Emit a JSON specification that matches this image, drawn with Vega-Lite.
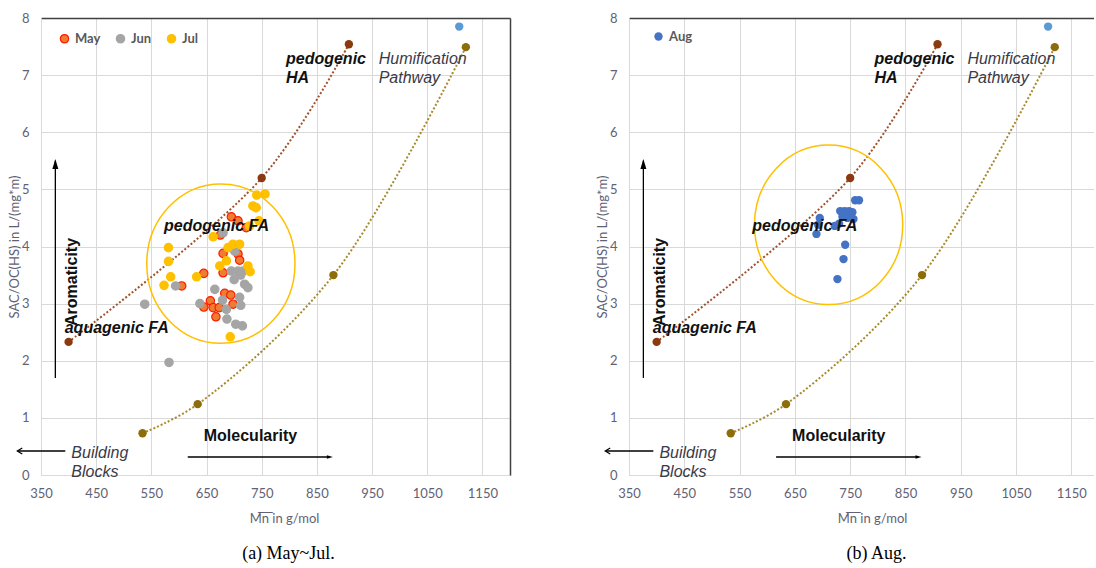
{
  "$schema": "https://vega.github.io/schema/vega-lite/v6.json",
  "background": "white",
  "padding": {"left": 8, "top": 12, "right": 0, "bottom": 0},
  "spacing": 86,
  "config": {
    "view": {"stroke": null},
    "font": "Liberation Sans",
    "axis": {
      "labelFont": "Lato", "labelFontSize": 13, "labelColor": "#5f6275",
      "titleFont": "Lato", "titleFontSize": 13, "titleFontWeight": "normal", "titleColor": "#5f6275",
      "gridColor": "#D9D9D9", "domainColor": "#D9D9D9", "ticks": false, "labelFlush": false
    },
    "legend": {
      "orient": "none", "direction": "horizontal", "title": null,
      "labelFont": "Lato", "labelFontSize": 13, "labelFontWeight": "bold", "labelColor": "#595959",
      "symbolSize": 70, "symbolStrokeWidth": 1.2, "columnPadding": 12, "labelOffset": 4
    }
  },
  "datasets": {
    "pedo": [{"x": 400, "y": 2.33}, {"x": 750, "y": 5.2}, {"x": 908, "y": 7.54}],
    "humi": [{"x": 534, "y": 0.73}, {"x": 634, "y": 1.24}, {"x": 880, "y": 3.5}, {"x": 1120, "y": 7.49}],
    "arrows": [
      {"x": 376, "y": 1.70, "x2": 376, "y2": 5.50},
      {"x": 616, "y": 0.315, "x2": 870, "y2": 0.315},
      {"x": 394, "y": 0.42, "x2": 308, "y2": 0.42}
    ],
    "upTip": [{"x": 376, "y": 5.53}],
    "rightTip": [{"x": 879, "y": 0.315}],
    "leftTip": [{"x": 307, "y": 0.42}],
    "biLabels": [
      {"x": 794, "y": 7.19, "label": "pedogenic\nHA"},
      {"x": 573, "y": 4.27, "label": "pedogenic FA"},
      {"x": 393, "y": 2.49, "label": "aquagenic FA"}
    ],
    "itLabels": [
      {"x": 962, "y": 7.20, "label": "Humification\nPathway"},
      {"x": 405, "y": 0.30, "label": "Building\nBlocks"}
    ],
    "boldLabels": [{"x": 645, "y": 0.60, "label": "Molecularity"}],
    "rotLabels": [{"x": 406, "y": 3.38, "label": "Aromaticity"}],
    "ref": [{"x": 1108, "y": 7.85}],
    "months": [
      {"month": "May", "x": 695, "y": 4.52}, {"month": "May", "x": 707, "y": 4.45}, {"month": "May", "x": 722, "y": 4.33},
      {"month": "May", "x": 675, "y": 4.20}, {"month": "May", "x": 680, "y": 3.88}, {"month": "May", "x": 707, "y": 3.87},
      {"month": "May", "x": 710, "y": 3.76}, {"month": "May", "x": 680, "y": 3.54}, {"month": "May", "x": 645, "y": 3.53},
      {"month": "May", "x": 605, "y": 3.31}, {"month": "May", "x": 683, "y": 3.18}, {"month": "May", "x": 694, "y": 3.15},
      {"month": "May", "x": 657, "y": 3.05}, {"month": "May", "x": 698, "y": 2.99}, {"month": "May", "x": 645, "y": 2.94},
      {"month": "May", "x": 662, "y": 2.93}, {"month": "May", "x": 673, "y": 2.93}, {"month": "May", "x": 667, "y": 2.77},
      {"month": "Jun", "x": 680, "y": 4.24}, {"month": "Jun", "x": 701, "y": 3.92}, {"month": "Jun", "x": 695, "y": 3.57},
      {"month": "Jun", "x": 707, "y": 3.57}, {"month": "Jun", "x": 716, "y": 3.57}, {"month": "Jun", "x": 712, "y": 3.50},
      {"month": "Jun", "x": 700, "y": 3.42}, {"month": "Jun", "x": 719, "y": 3.34}, {"month": "Jun", "x": 725, "y": 3.28},
      {"month": "Jun", "x": 665, "y": 3.25}, {"month": "Jun", "x": 679, "y": 3.06}, {"month": "Jun", "x": 710, "y": 3.11},
      {"month": "Jun", "x": 712, "y": 2.97}, {"month": "Jun", "x": 638, "y": 3.00}, {"month": "Jun", "x": 686, "y": 2.90},
      {"month": "Jun", "x": 687, "y": 2.73}, {"month": "Jun", "x": 703, "y": 2.64}, {"month": "Jun", "x": 715, "y": 2.61},
      {"month": "Jun", "x": 594, "y": 3.31}, {"month": "Jun", "x": 538, "y": 2.99}, {"month": "Jun", "x": 582, "y": 1.97},
      {"month": "Jul", "x": 741, "y": 4.90}, {"month": "Jul", "x": 756, "y": 4.92}, {"month": "Jul", "x": 734, "y": 4.71},
      {"month": "Jul", "x": 740, "y": 4.68}, {"month": "Jul", "x": 745, "y": 4.45}, {"month": "Jul", "x": 728, "y": 4.36},
      {"month": "Jul", "x": 662, "y": 4.17}, {"month": "Jul", "x": 581, "y": 3.98}, {"month": "Jul", "x": 689, "y": 3.98},
      {"month": "Jul", "x": 698, "y": 4.04}, {"month": "Jul", "x": 710, "y": 4.04}, {"month": "Jul", "x": 581, "y": 3.74},
      {"month": "Jul", "x": 674, "y": 3.66}, {"month": "Jul", "x": 686, "y": 3.75}, {"month": "Jul", "x": 725, "y": 3.66},
      {"month": "Jul", "x": 729, "y": 3.56}, {"month": "Jul", "x": 632, "y": 3.47}, {"month": "Jul", "x": 585, "y": 3.47},
      {"month": "Jul", "x": 573, "y": 3.32}, {"month": "Jul", "x": 693, "y": 2.42}
    ],
    "aug": [
      {"month": "Aug", "x": 759, "y": 4.81}, {"month": "Aug", "x": 766, "y": 4.81}, {"month": "Aug", "x": 732, "y": 4.62},
      {"month": "Aug", "x": 740, "y": 4.62}, {"month": "Aug", "x": 748, "y": 4.62}, {"month": "Aug", "x": 754, "y": 4.60},
      {"month": "Aug", "x": 736, "y": 4.52}, {"month": "Aug", "x": 745, "y": 4.50}, {"month": "Aug", "x": 756, "y": 4.48},
      {"month": "Aug", "x": 722, "y": 4.36}, {"month": "Aug", "x": 730, "y": 4.40}, {"month": "Aug", "x": 695, "y": 4.50},
      {"month": "Aug", "x": 692, "y": 4.38}, {"month": "Aug", "x": 689, "y": 4.22}, {"month": "Aug", "x": 741, "y": 4.03},
      {"month": "Aug", "x": 738, "y": 3.78}, {"month": "Aug", "x": 727, "y": 3.43}
    ]
  },
  "hconcat": [
    {
      "width": 469, "height": 457,
      "title": {"text": "(a) May~Jul.", "orient": "bottom", "frame": "group", "font": "Liberation Serif", "fontSize": 18, "fontWeight": "normal", "color": "#000", "offset": 20, "dx": 13},
      "encoding": {
        "x": {"field": "x", "type": "quantitative", "scale": {"domain": [350, 1200], "nice": false, "zero": false}, "axis": null},
        "y": {"field": "y", "type": "quantitative", "scale": {"domain": [0, 8], "nice": false, "zero": false}, "axis": null}
      },
      "layer": [
        {
          "data": {"name": "pedo"},
          "mark": {"type": "line", "color": "#A0522D", "strokeDash": [2, 2], "strokeWidth": 2, "interpolate": "catmull-rom"},
          "encoding": {
            "x": {"field": "x", "type": "quantitative", "scale": {"domain": [350, 1200], "nice": false, "zero": false},
                  "axis": {"values": [350, 450, 550, 650, 750, 850, 950, 1050, 1150], "format": "d", "labelPadding": 12, "titlePadding": 12, "title": "M̅n̅ in g/mol", "titleX": 243}},
            "y": {"field": "y", "type": "quantitative", "scale": {"domain": [0, 8], "nice": false, "zero": false},
                  "axis": {"values": [0, 1, 2, 3, 4, 5, 6, 7, 8], "labelPadding": 12, "titlePadding": 0, "title": "SAC/OC(HS)  in L/(mg*m)"}}
          }
        },
        {
          "data": {"name": "humi"},
          "mark": {"type": "line", "color": "#A8892A", "strokeDash": [2, 2], "strokeWidth": 2, "interpolate": "catmull-rom"},
          "encoding": {
            "x": {"field": "x", "type": "quantitative", "scale": {"domain": [350, 1200], "nice": false, "zero": false},
                  "axis": {"orient": "top", "labels": false, "grid": false, "domainColor": "#404040", "domainWidth": 1.5, "title": null}},
            "y": {"field": "y", "type": "quantitative", "scale": {"domain": [0, 8], "nice": false, "zero": false},
                  "axis": {"orient": "right", "labels": false, "grid": false, "domainColor": "#404040", "domainWidth": 1.5, "title": null}}
          }
        },
        {
          "data": {"values": [{"x": 676, "y": 3.70}]},
          "mark": {"type": "point", "shape": "M-0.93,0A0.93,1 0 1,0 0.93,0A0.93,1 0 1,0 -0.93,0Z", "size": 25400, "filled": false, "stroke": "#FFC000", "strokeWidth": 1.5, "opacity": 1}
        },
        {
          "data": {"name": "arrows"},
          "mark": {"type": "rule", "color": "#000", "strokeWidth": 1.3},
          "encoding": {"x2": {"field": "x2"}, "y2": {"field": "y2"}}
        },
        {
          "data": {"name": "upTip"},
          "mark": {"type": "point", "shape": "M0,0L-0.3,1L0.3,1Z", "size": 400, "filled": true, "color": "#000", "opacity": 1}
        },
        {
          "data": {"name": "rightTip"},
          "mark": {"type": "point", "shape": "M0,0L-1,-0.3L-1,0.3Z", "size": 144, "filled": true, "color": "#000", "opacity": 1}
        },
        {
          "data": {"name": "leftTip"},
          "mark": {"type": "point", "shape": "M1,-0.6L0,0L1,0.6", "size": 100, "filled": false, "stroke": "#000", "strokeWidth": 1.2, "opacity": 1}
        },
        {
          "data": {"name": "months"},
          "mark": {"type": "circle", "size": 70, "opacity": 1, "strokeWidth": 1.2},
          "encoding": {
            "fill": {"field": "month", "type": "nominal", "scale": {"domain": ["May", "Jun", "Jul"], "range": ["#ED7D31", "#A5A5A5", "#FFC000"]},
                     "legend": {"legendX": 17, "legendY": 14}},
            "stroke": {"field": "month", "type": "nominal", "scale": {"domain": ["May", "Jun", "Jul"], "range": ["#FF1A00", "#A5A5A5", "#FFC000"]},
                     "legend": {"legendX": 17, "legendY": 14}}
          }
        },
        {
          "data": {"name": "pedo"},
          "mark": {"type": "circle", "size": 70, "color": "#8B3A0F", "opacity": 1}
        },
        {
          "data": {"name": "humi"},
          "mark": {"type": "circle", "size": 70, "color": "#8C6D0A", "opacity": 1}
        },
        {
          "data": {"name": "ref"},
          "mark": {"type": "circle", "size": 70, "color": "#5B9BD5", "opacity": 1}
        },
        {
          "data": {"name": "biLabels"},
          "mark": {"type": "text", "font": "Liberation Sans", "fontSize": 16, "fontWeight": "bold", "fontStyle": "italic", "color": "#111", "align": "left", "baseline": "alphabetic", "lineBreak": "\n", "lineHeight": 19},
          "encoding": {"text": {"field": "label"}}
        },
        {
          "data": {"name": "itLabels"},
          "mark": {"type": "text", "font": "Liberation Sans", "fontSize": 16, "fontStyle": "italic", "color": "#3a3a48", "align": "left", "baseline": "alphabetic", "lineBreak": "\n", "lineHeight": 19},
          "encoding": {"text": {"field": "label"}}
        },
        {
          "data": {"name": "boldLabels"},
          "mark": {"type": "text", "font": "Liberation Sans", "fontSize": 16, "fontWeight": "bold", "color": "#111", "align": "left", "baseline": "alphabetic"},
          "encoding": {"text": {"field": "label"}}
        },
        {
          "data": {"name": "rotLabels"},
          "mark": {"type": "text", "font": "Liberation Sans", "fontSize": 16, "fontWeight": "bold", "color": "#111", "align": "center", "baseline": "middle", "angle": 270},
          "encoding": {"text": {"field": "label"}}
        }
      ],
      "resolve": {"axis": {"x": "independent", "y": "independent"}}
    },
    {
      "width": 465, "height": 457,
      "title": {"text": "(b) Aug.", "orient": "bottom", "frame": "group", "font": "Liberation Serif", "fontSize": 18, "fontWeight": "normal", "color": "#000", "offset": 20, "dx": 15},
      "encoding": {
        "x": {"field": "x", "type": "quantitative", "scale": {"domain": [350, 1191], "nice": false, "zero": false}, "axis": null},
        "y": {"field": "y", "type": "quantitative", "scale": {"domain": [0, 8], "nice": false, "zero": false}, "axis": null}
      },
      "layer": [
        {
          "data": {"name": "pedo"},
          "mark": {"type": "line", "color": "#A0522D", "strokeDash": [2, 2], "strokeWidth": 2, "interpolate": "catmull-rom"},
          "encoding": {
            "x": {"field": "x", "type": "quantitative", "scale": {"domain": [350, 1191], "nice": false, "zero": false},
                  "axis": {"values": [350, 450, 550, 650, 750, 850, 950, 1050, 1150], "format": "d", "labelPadding": 12, "titlePadding": 12, "title": "M̅n̅ in g/mol", "titleX": 243}},
            "y": {"field": "y", "type": "quantitative", "scale": {"domain": [0, 8], "nice": false, "zero": false},
                  "axis": {"values": [0, 1, 2, 3, 4, 5, 6, 7, 8], "labelPadding": 12, "titlePadding": 0, "title": "SAC/OC(HS)  in L/(mg*m)"}}
          }
        },
        {
          "data": {"name": "humi"},
          "mark": {"type": "line", "color": "#A8892A", "strokeDash": [2, 2], "strokeWidth": 2, "interpolate": "catmull-rom"},
          "encoding": {
            "x": {"field": "x", "type": "quantitative", "scale": {"domain": [350, 1191], "nice": false, "zero": false},
                  "axis": {"orient": "top", "labels": false, "grid": false, "domainColor": "#404040", "domainWidth": 1.5, "title": null}}
          }
        },
        {
          "data": {"values": [{"x": 711, "y": 4.38}]},
          "mark": {"type": "point", "shape": "M-0.93,0A0.93,1 0 1,0 0.93,0A0.93,1 0 1,0 -0.93,0Z", "size": 25400, "filled": false, "stroke": "#FFC000", "strokeWidth": 1.5, "opacity": 1}
        },
        {
          "data": {"name": "arrows"},
          "mark": {"type": "rule", "color": "#000", "strokeWidth": 1.3},
          "encoding": {"x2": {"field": "x2"}, "y2": {"field": "y2"}}
        },
        {
          "data": {"name": "upTip"},
          "mark": {"type": "point", "shape": "M0,0L-0.3,1L0.3,1Z", "size": 400, "filled": true, "color": "#000", "opacity": 1}
        },
        {
          "data": {"name": "rightTip"},
          "mark": {"type": "point", "shape": "M0,0L-1,-0.3L-1,0.3Z", "size": 144, "filled": true, "color": "#000", "opacity": 1}
        },
        {
          "data": {"name": "leftTip"},
          "mark": {"type": "point", "shape": "M1,-0.6L0,0L1,0.6", "size": 100, "filled": false, "stroke": "#000", "strokeWidth": 1.2, "opacity": 1}
        },
        {
          "data": {"name": "aug"},
          "mark": {"type": "circle", "size": 70, "opacity": 1},
          "encoding": {
            "fill": {"field": "month", "type": "nominal", "scale": {"domain": ["Aug"], "range": ["#4472C4"]},
                     "legend": {"legendX": 23, "legendY": 12}}
          }
        },
        {
          "data": {"name": "pedo"},
          "mark": {"type": "circle", "size": 70, "color": "#8B3A0F", "opacity": 1}
        },
        {
          "data": {"name": "humi"},
          "mark": {"type": "circle", "size": 70, "color": "#8C6D0A", "opacity": 1}
        },
        {
          "data": {"name": "ref"},
          "mark": {"type": "circle", "size": 70, "color": "#5B9BD5", "opacity": 1}
        },
        {
          "data": {"name": "biLabels"},
          "mark": {"type": "text", "font": "Liberation Sans", "fontSize": 16, "fontWeight": "bold", "fontStyle": "italic", "color": "#111", "align": "left", "baseline": "alphabetic", "lineBreak": "\n", "lineHeight": 19},
          "encoding": {"text": {"field": "label"}}
        },
        {
          "data": {"name": "itLabels"},
          "mark": {"type": "text", "font": "Liberation Sans", "fontSize": 16, "fontStyle": "italic", "color": "#3a3a48", "align": "left", "baseline": "alphabetic", "lineBreak": "\n", "lineHeight": 19},
          "encoding": {"text": {"field": "label"}}
        },
        {
          "data": {"name": "boldLabels"},
          "mark": {"type": "text", "font": "Liberation Sans", "fontSize": 16, "fontWeight": "bold", "color": "#111", "align": "left", "baseline": "alphabetic"},
          "encoding": {"text": {"field": "label"}}
        },
        {
          "data": {"name": "rotLabels"},
          "mark": {"type": "text", "font": "Liberation Sans", "fontSize": 16, "fontWeight": "bold", "color": "#111", "align": "center", "baseline": "middle", "angle": 270},
          "encoding": {"text": {"field": "label"}}
        }
      ],
      "resolve": {"axis": {"x": "independent", "y": "independent"}}
    }
  ],
  "resolve": {"scale": {"fill": "independent", "stroke": "independent"}}
}
